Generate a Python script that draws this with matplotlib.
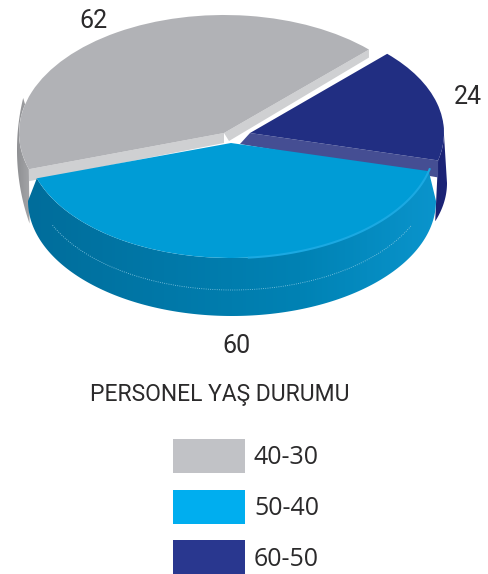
import numpy as np
import matplotlib
matplotlib.use('Agg')
import matplotlib.pyplot as plt
from matplotlib.colors import LinearSegmentedColormap
from matplotlib.patches import Polygon, Rectangle, Wedge
from matplotlib.transforms import Affine2D

groups = ['40-30', '50-40', '60-50']
values = [62, 60, 24]
title = 'PERSONEL YAŞ DURUMU'

fig = plt.figure(figsize=(4.88, 5.74), dpi=100)
ax = fig.add_axes([0, 0, 1, 1])
ax.axis('off')

# slice angles, gray starts at upper right and goes counter clockwise
spans = np.array(values) / sum(values) * 360
starts = 45 + np.concatenate([[0], np.cumsum(spans)[:-1]])
ends = starts + spans


def ell(th, c, a, b):
    th = np.radians(th)
    return np.column_stack([c[0] + a * np.cos(th), c[1] - b * np.sin(th)])


def top(i, c, a, b, color, z):
    tr = Affine2D().scale(a, -b).translate(*c) + ax.transData
    ax.add_patch(Wedge((0, 0), 1, starts[i], ends[i], fc=color, ec='none', transform=tr, zorder=z))


def side(upper, lower, cols, z):
    # upper and lower are outlines of the wall, filled with a left to right gradient
    pts = np.vstack([upper, lower])
    clip = Polygon(pts, closed=True, fc='none', ec='none', transform=ax.transData)
    ax.add_patch(clip)
    cm = LinearSegmentedColormap.from_list('s', cols)
    im = ax.imshow(np.linspace(0, 1, 256)[None, :], cmap=cm, aspect='auto', zorder=z,
                   extent=[pts[:, 0].min(), pts[:, 0].max(), pts[:, 1].max(), pts[:, 1].min()])
    im.set_clip_path(clip)


def band(theta, c, a, b, c_low, drop, color, z):
    p = ell(np.array([theta]), c, a, b)[0]
    ax.add_patch(Polygon([c, p, p + [0, drop], c_low], fc=color, ec='none', zorder=z))


# gray slice
c0, a0, b0 = (224, 133), 205, 118
side(ell(np.linspace(ends[0], 166, 60), c0, a0, b0),
     ell(np.linspace(166, 200, 60), (225, 150), 208, 215),
     ['#8f9093', '#a4a5a8'], 1)
band(starts[0], c0, a0, b0, (229, 141), 8, '#cfd0d2', 2)
band(ends[0], c0, a0, b0, (224, 143), 12, '#cfd0d2', 2)
top(0, c0, a0, b0, '#b1b2b6', 3)

# navy slice
c2, a2, b2 = (250, 133), 194, 112
side(ell(np.linspace(starts[2], 365, 30), c2, a2, b2),
     ell(np.linspace(360, 340, 30), (251, 183), 196, 112),
     ['#1a2272', '#1c2478'], 4)
band(starts[2], c2, a2, b2, (240, 144), 17, '#454e93', 5)
top(2, c2, a2, b2, '#212e82', 6)

# blue slice
c1, a1, b1 = (231, 143), 204, 115
side(ell(np.linspace(starts[1], ends[1], 200), c1, a1, b1),
     ell(np.linspace(360, 180, 200), (232, 201), 204, 115),
     ['#006d9b', '#0078a8', '#0082b4', '#0a94cc'], 7)
top(1, c1, a1, b1, '#009cd6', 8)

rim = ell(np.linspace(275, ends[1] + 1, 80), c1, a1, b1)
ax.plot(rim[:, 0], rim[:, 1], color='#1ba9e2', lw=1.5, zorder=9)
seam = ell(np.linspace(205, 335, 120), (232, 178), 198, 112)
ax.plot(seam[:, 0], seam[:, 1], color='#8fcde6', lw=0.6, ls=':', zorder=9)

# value labels
ax.text(93, 21, values[0], family='Roboto', fontsize=18, color='#2b2a2b', ha='center', va='center')
ax.text(468, 97, values[2], family='Roboto', fontsize=18, color='#2b2a2b', ha='center', va='center')
ax.text(236, 346, values[1], family='Roboto', fontsize=18, color='#2b2a2b', ha='center', va='center')

ax.text(220, 394, title, family='Roboto', fontsize=16.5, color='#2b2a2b', ha='center', va='center')

# legend
legend_colors = ['#c1c2c6', '#00aeef', '#29378f']
for k, (g, col) in enumerate(zip(groups, legend_colors)):
    y = 439 + k * 50.5
    ax.add_patch(Rectangle((173, y), 72, 34, fc=col, ec='none'))
    ax.text(254, y + 19, g, family='Open Sans', fontsize=18, color='#2b2a2b', ha='left', va='center')

ax.set_xlim(0, 488)
ax.set_ylim(574, 0)
fig.savefig('out.png', dpi=100)
